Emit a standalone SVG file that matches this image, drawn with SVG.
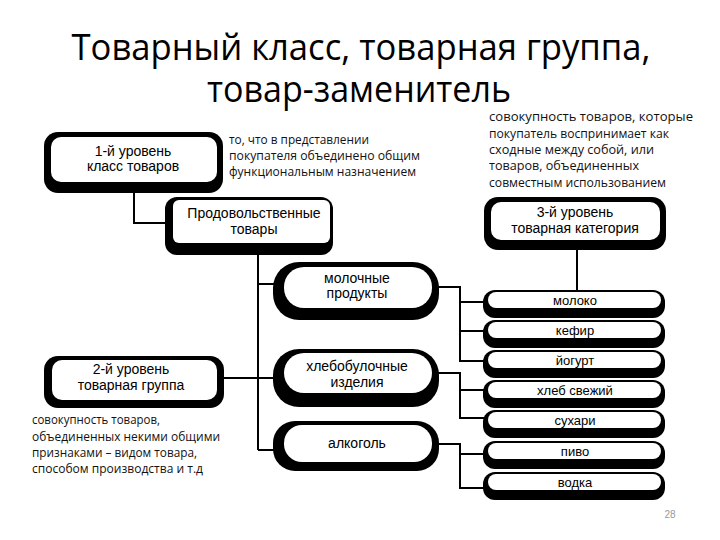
<svg xmlns="http://www.w3.org/2000/svg" width="720" height="540" viewBox="0 0 720 540">
<style>
.t{font-family:"Open Sans","Liberation Sans",sans-serif;fill:#000}
.lb{font-family:"Liberation Sans",Arial,sans-serif;font-size:14px;fill:#000;text-anchor:middle}
.pl{font-family:"Liberation Sans",Arial,sans-serif;font-size:13px;fill:#000;text-anchor:middle}
.cap{font-family:"Open Sans","Liberation Sans",sans-serif;font-size:12px;fill:#111}
.o{fill:#000}
.i{fill:#fff}
.c{stroke:#000;stroke-width:2;fill:none}
</style>
<rect width="720" height="540" fill="#fff"/>
<g id="title">
<text class="t" x="361" y="60" font-size="36" text-anchor="middle" textLength="579" lengthAdjust="spacingAndGlyphs">Товарный класс, товарная группа,</text>
<text class="t" x="359" y="102" font-size="36" text-anchor="middle" textLength="304" lengthAdjust="spacingAndGlyphs">товар-заменитель</text>
</g>
<g id="connectors">
<polyline class="c" points="134,192 134,223 166,223"/>
<polyline class="c" points="258,254 258,450"/>
<line class="c" x1="258" y1="284" x2="274" y2="284"/>
<line class="c" x1="222" y1="378" x2="274" y2="378"/>
<line class="c" x1="258" y1="450" x2="274" y2="450"/>
<line class="c" x1="577" y1="249" x2="577" y2="291"/>
<polyline class="c" points="438,287 460,287 460,362"/>
<line class="c" x1="460" y1="302" x2="484" y2="302"/>
<line class="c" x1="460" y1="331" x2="484" y2="331"/>
<line class="c" x1="460" y1="361" x2="484" y2="361"/>
<polyline class="c" points="438,373 460,373 460,419"/>
<line class="c" x1="460" y1="390" x2="484" y2="390"/>
<line class="c" x1="460" y1="418" x2="484" y2="418"/>
<polyline class="c" points="438,444 460,444 460,489"/>
<line class="c" x1="460" y1="454" x2="484" y2="454"/>
<line class="c" x1="460" y1="488" x2="484" y2="488"/>
</g>
<g id="level1">
<rect class="o" x="44" y="132" width="179" height="61" rx="14"/>
<rect class="i" x="51" y="137" width="166" height="45" rx="10"/>
<text class="lb" x="133" y="156">1-й уровень</text>
<text class="lb" x="133" y="171">класс товаров</text>
</g>
<g id="food">
<rect class="o" x="165" y="197" width="168" height="58" rx="12"/>
<rect class="i" x="173" y="200" width="157" height="43" rx="6"/>
<text class="lb" x="254" y="218">Продовольственные</text>
<text class="lb" x="254" y="234">товары</text>
</g>
<g id="level2">
<rect class="o" x="44" y="356" width="180" height="52" rx="14"/>
<rect class="i" x="52" y="360" width="165" height="40" rx="10"/>
<text class="lb" x="131" y="374">2-й уровень</text>
<text class="lb" x="131" y="390">товарная группа</text>
</g>
<g id="level3">
<rect class="o" x="484" y="197" width="182" height="53" rx="14"/>
<rect class="i" x="491" y="202" width="169" height="38" rx="10"/>
<text class="lb" x="575" y="217">3-й уровень</text>
<text class="lb" x="575" y="233">товарная категория</text>
</g>
<g id="milkgroup">
<rect class="o" x="273" y="262" width="166" height="58" rx="26"/>
<rect class="i" x="284" y="267" width="148" height="41" rx="20"/>
<text class="lb" x="357" y="283">молочные</text>
<text class="lb" x="357" y="298">продукты</text>
</g>
<g id="bakery">
<rect class="o" x="273" y="349" width="166" height="58" rx="26"/>
<rect class="i" x="284" y="353" width="148" height="40" rx="20"/>
<text class="lb" x="357" y="371">хлебобулочные</text>
<text class="lb" x="357" y="387">изделия</text>
</g>
<g id="alcohol">
<rect class="o" x="273" y="421" width="166" height="50" rx="22"/>
<rect class="i" x="284" y="425" width="148" height="37" rx="18"/>
<text class="lb" x="357" y="448">алкоголь</text>
</g>
<g id="milk">
<rect class="o" x="483" y="290" width="182" height="28" rx="12"/>
<rect class="i" x="488" y="292" width="173" height="16" rx="8"/>
<text class="pl" x="575" y="305">молоко</text>
</g>
<g id="kefir">
<rect class="o" x="483" y="320" width="182" height="28" rx="12"/>
<rect class="i" x="488" y="322" width="173" height="16" rx="8"/>
<text class="pl" x="575" y="335">кефир</text>
</g>
<g id="yogurt">
<rect class="o" x="483" y="350" width="182" height="28" rx="12"/>
<rect class="i" x="488" y="352" width="173" height="16" rx="8"/>
<text class="pl" x="575" y="365">йогурт</text>
</g>
<g id="bread">
<rect class="o" x="483" y="380" width="182" height="28" rx="12"/>
<rect class="i" x="488" y="382" width="173" height="16" rx="8"/>
<text class="pl" x="575" y="395">хлеб свежий</text>
</g>
<g id="rusks">
<rect class="o" x="483" y="410" width="182" height="28" rx="12"/>
<rect class="i" x="488" y="412" width="173" height="16" rx="8"/>
<text class="pl" x="575" y="425">сухари</text>
</g>
<g id="beer">
<rect class="o" x="483" y="441" width="182" height="28" rx="12"/>
<rect class="i" x="488" y="443" width="173" height="16" rx="8"/>
<text class="pl" x="575" y="456">пиво</text>
</g>
<g id="vodka">
<rect class="o" x="483" y="472" width="182" height="28" rx="12"/>
<rect class="i" x="488" y="474" width="173" height="16" rx="8"/>
<text class="pl" x="575" y="487">водка</text>
</g>
<g id="note-class">
<text class="cap" x="229" y="144" textLength="140" lengthAdjust="spacingAndGlyphs">то, что в представлении</text>
<text class="cap" x="229" y="160" textLength="191" lengthAdjust="spacingAndGlyphs">покупателя объединено общим</text>
<text class="cap" x="229" y="176" textLength="187" lengthAdjust="spacingAndGlyphs">функциональным назначением</text>
</g>
<g id="note-category">
<text class="cap" x="489" y="121" textLength="204" lengthAdjust="spacingAndGlyphs">совокупность товаров, которые</text>
<text class="cap" x="489" y="138" textLength="180" lengthAdjust="spacingAndGlyphs">покупатель воспринимает как</text>
<text class="cap" x="489" y="154" textLength="165" lengthAdjust="spacingAndGlyphs">сходные между собой, или</text>
<text class="cap" x="489" y="170" textLength="150" lengthAdjust="spacingAndGlyphs">товаров, объединенных</text>
<text class="cap" x="489" y="187" textLength="177" lengthAdjust="spacingAndGlyphs">совместным использованием</text>
</g>
<g id="note-group">
<text class="cap" x="32" y="424" textLength="128" lengthAdjust="spacingAndGlyphs">совокупность товаров,</text>
<text class="cap" x="32" y="441" textLength="188" lengthAdjust="spacingAndGlyphs">объединенных некими общими</text>
<text class="cap" x="32" y="457" textLength="165" lengthAdjust="spacingAndGlyphs">признаками – видом товара,</text>
<text class="cap" x="32" y="473" textLength="171" lengthAdjust="spacingAndGlyphs">способом производства и т.д</text>
</g>
<text x="670" y="518" font-family="Liberation Sans,Arial,sans-serif" font-size="10" fill="#999" text-anchor="middle">28</text>
</svg>
